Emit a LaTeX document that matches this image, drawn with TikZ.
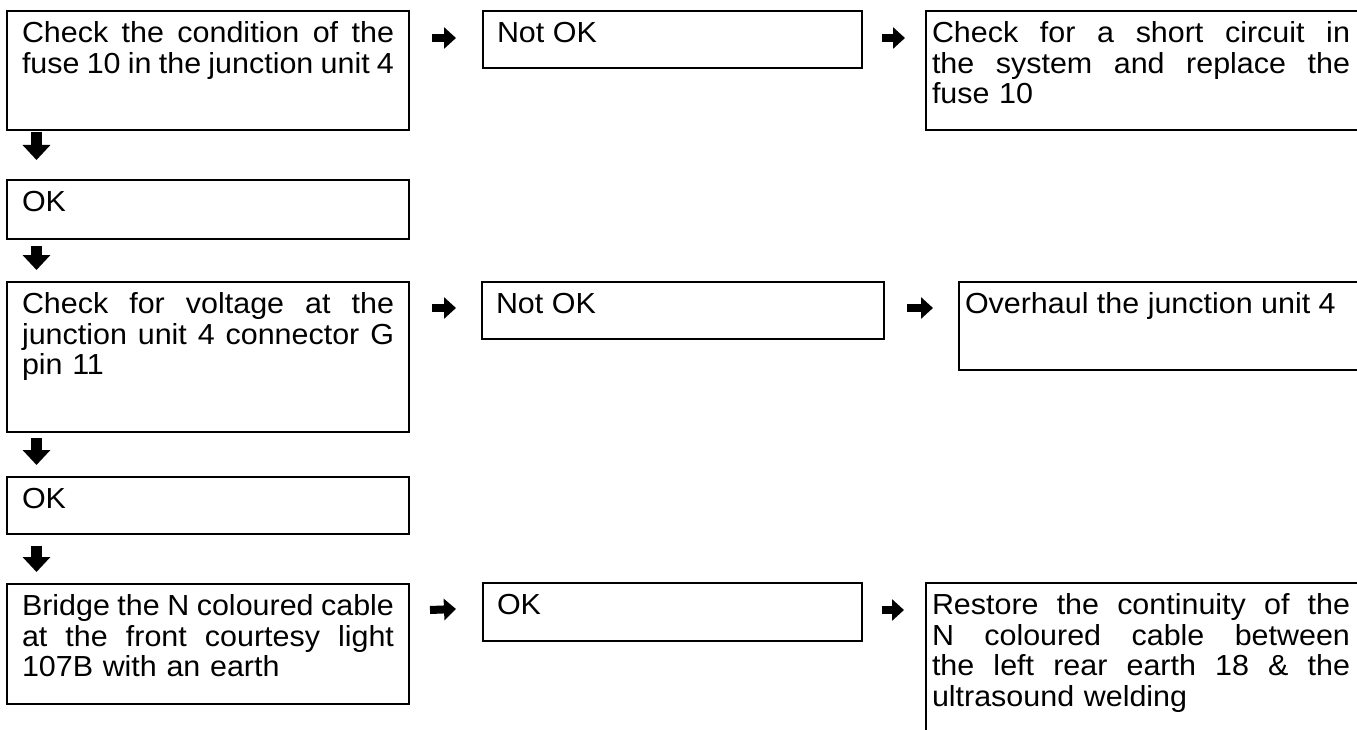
\documentclass[tikz,border=0pt]{standalone}
\usepackage{fontspec}
\setmainfont{Liberation Sans}[FakeStretch=1.05]
\usetikzlibrary{arrows.meta,calc}
\newcommand\fillln[2]{\noindent\hbox to #1{\spaceskip=.25em plus 1fil minus .1em\relax\strut #2}\par}
\newcommand\lastln[1]{\noindent\strut #1\par}
\tikzset{
  box/.style={draw=black, line width=2pt, rectangle, anchor=north west, inner sep=0pt, outer sep=0pt},
  txt/.style={anchor=north west, inner sep=0pt, outer sep=0pt, align=left,
              font=\fontsize{29}{30.5}\selectfont},
  downarrow/.style={line width=11pt, -{Triangle[width=27pt,length=15pt]}},
  rightarrow/.style={line width=8pt, -{Triangle[width=21pt,length=12pt]}},
}
\begin{document}
\begin{tikzpicture}[x=1pt,y=-1pt]
\path[use as bounding box, fill=white] (0,0) rectangle (1357,730);

% left column
\node[box, minimum width=402pt, minimum height=119pt] (b1)  at (7,11)  {};
\node[box, minimum width=402pt, minimum height=59pt]  (ok1) at (7,180) {};
\node[box, minimum width=402pt, minimum height=150pt] (b3)  at (7,282) {};
\node[box, minimum width=402pt, minimum height=57pt]  (ok2) at (7,477) {};
\node[box, minimum width=402pt, minimum height=120pt] (b5)  at (7,584) {};
% middle column
\node[box, minimum width=379pt, minimum height=57pt]  (n1)  at (483,11)  {};
\node[box, minimum width=402pt, minimum height=57pt]  (n2)  at (482,282) {};
\node[box, minimum width=379pt, minimum height=58pt]  (ok3) at (483,583) {};
% right column (cut by the page edge)
\node[box, minimum width=444pt, minimum height=119pt] (r1)  at (926,11)  {};
\node[box, minimum width=411pt, minimum height=88pt]  (r2)  at (959,282) {};
\node[box, minimum width=444pt, minimum height=180pt] (r3)  at (926,583) {};

% texts
\node[txt, text width=372pt] (b1t) at ($(b1.north west)+(15,10.6)$)
  {\fillln{372pt}{Check the condition of the}\fillln{372pt}{fuse 10 in the junction unit 4}};
\node[txt] (ok1t) at ($(ok1.north west)+(15,10.6)$) {\strut OK};
\node[txt, text width=372pt] (b3t) at ($(b3.north west)+(15,10.6)$)
  {\fillln{372pt}{Check for voltage at the}\fillln{372pt}{junction unit 4 connector G}\lastln{pin 11}};
\node[txt] (ok2t) at ($(ok2.north west)+(15,10.6)$) {\strut OK};
\node[txt, text width=372pt] (b5t) at ($(b5.north west)+(15,10.6)$)
  {\fillln{372pt}{Bridge the N coloured cable}\fillln{372pt}{at the front courtesy light}\lastln{107B with an earth}};

\node[txt] (n1t) at ($(n1.north west)+(14,10.6)$) {\strut Not OK};
\node[txt] (n2t) at ($(n2.north west)+(14,10.6)$) {\strut Not OK};
\node[txt] (ok3t) at ($(ok3.north west)+(14,10.6)$) {\strut OK};

\node[txt, text width=418pt] (r1t) at ($(r1.north west)+(6,10.6)$)
  {\fillln{418pt}{Check for a short circuit in}\fillln{418pt}{the system and replace the}\lastln{fuse 10}};
\node[txt] (r2t) at ($(r2.north west)+(6,10.6)$) {\strut Overhaul the junction unit 4};
\node[txt, text width=418pt] (r3t) at ($(r3.north west)+(6,10.6)$)
  {\fillln{418pt}{Restore the continuity of the}\fillln{418pt}{N coloured cable between}\fillln{418pt}{the left rear earth 18 \& the}\lastln{ultrasound welding}};

% down arrows
\draw[downarrow] ([xshift=29.5pt,yshift=-2pt]b1.south west) -- ([xshift=29.5pt,yshift=20pt]ok1.north west);
\draw[downarrow] ([xshift=29.5pt,yshift=-7pt]ok1.south west) -- ([xshift=29.5pt,yshift=12pt]b3.north west);
\draw[downarrow] ([xshift=29.5pt,yshift=-6pt]b3.south west) -- ([xshift=29.5pt,yshift=12pt]ok2.north west);
\draw[downarrow] ([xshift=29.5pt,yshift=-12pt]ok2.south west) -- ([xshift=29.5pt,yshift=12pt]b5.north west);

% right arrows
\draw[rightarrow] ([xshift=23pt,yshift=-27pt]b1.north east) -- ([xshift=-27pt,yshift=-27pt]n1.north west);
\draw[rightarrow] ([xshift=20pt,yshift=-27pt]n1.north east) -- ([xshift=-21pt,yshift=-27pt]r1.north west);
\draw[rightarrow] ([xshift=23pt,yshift=-26pt]b3.north east) -- ([xshift=-26pt,yshift=-26pt]n2.north west);
\draw[rightarrow] ([xshift=23pt,yshift=-26pt]n2.north east) -- ([xshift=-26pt,yshift=-26pt]r2.north west);
\draw[rightarrow] ([xshift=21pt,yshift=-26pt]b5.north east) -- ([xshift=-27pt,yshift=-26pt]ok3.north west);
\draw[rightarrow] ([xshift=20pt,yshift=-27pt]ok3.north east) -- ([xshift=-22pt,yshift=-27pt]r3.north west);
\end{tikzpicture}
\end{document}
